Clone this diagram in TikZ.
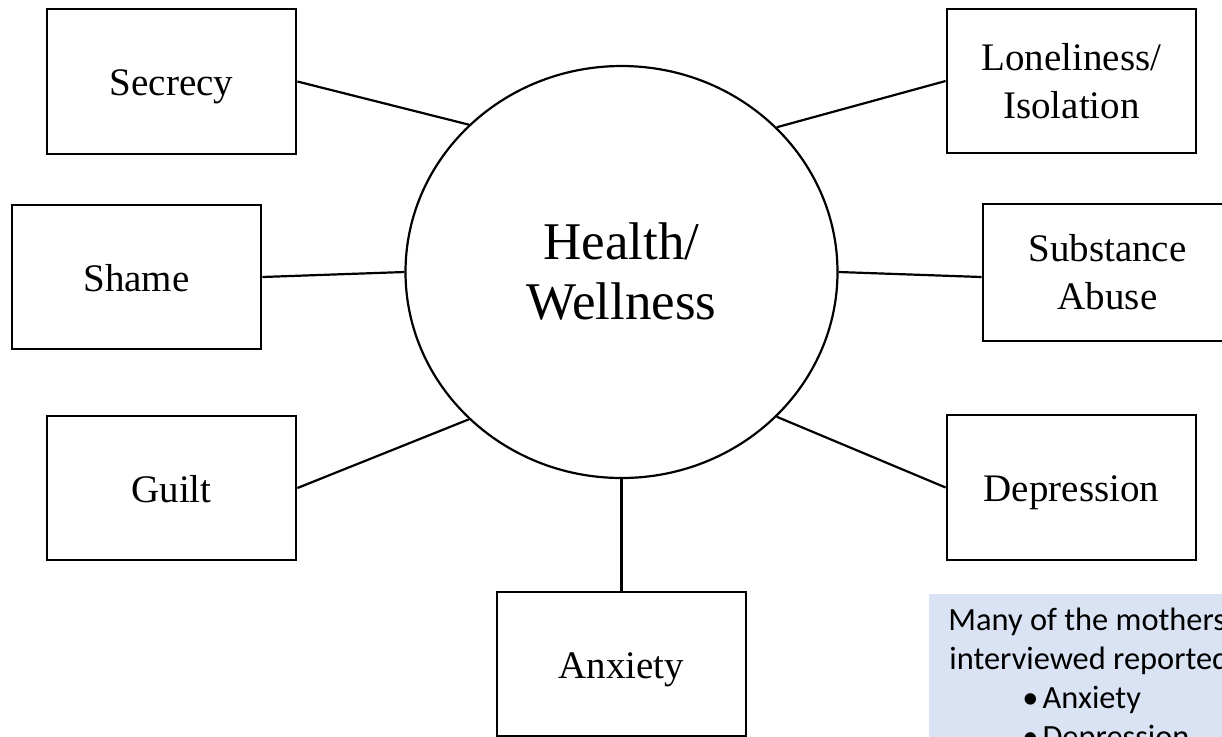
\documentclass[tikz,border=0pt]{standalone}
\usepackage{fontspec}
\setmainfont{Liberation Serif}
\newfontfamily\calloutfont{Carlito}
\usetikzlibrary{shapes.geometric}
\definecolor{calloutblue}{RGB}{218,227,243}
\tikzset{
  topic/.style={draw=black, line width=1.4pt, rectangle, fill=white, inner sep=0pt,
    minimum width=124.5pt, minimum height=72pt, align=center,
    font=\fontsize{19.5}{24}\selectfont},
  oneline/.style={text height=14pt, text depth=0pt},
  hub/.style={draw=black, line width=1.1pt, ellipse, inner sep=0pt,
    minimum width=216pt, minimum height=206pt, align=center,
    font=\fontsize{26.5}{30}\selectfont},
  link/.style={draw=black, line width=1.1pt},
  callline/.style={anchor=base west, inner sep=0pt, font=\calloutfont\fontsize{16.2}{19.5}\selectfont}
}
\begin{document}
\begin{tikzpicture}[x=0.5pt,y=-0.5pt]
\useasboundingbox (0,0) rectangle (1222,736);
\clip (0,0) rectangle (1222,736);
\fill[white] (0,0) rectangle (1222,736);

\node[hub] (hw) at (621.5,272) {Health/\\Wellness};

\node[topic, oneline, minimum height=72.5pt] (sec) at (171.5,81.5) {Secrecy};
\node[topic] (lon) at (1071.5,81) {Loneliness/\\Isolation};
\node[topic, oneline] (sh) at (136.5,277) {Shame};
\node[topic, minimum height=68.5pt] (sub) at (1107.5,272.5) {Substance\\Abuse};
\node[topic, oneline] (gu) at (171.5,488) {Guilt};
\node[topic, oneline, minimum height=72.5pt] (dep) at (1071.5,487.5) {Depression};
\node[topic, oneline] (anx) at (621.5,664) {Anxiety};

\draw[link] (sec.east) -- (hw.136);
\draw[link] (lon.west) -- (hw.43.5);
\draw[link] (sh.east) -- (hw.180);
\draw[link] (hw.0) -- (sub.west |- sh.east);
\draw[link] (gu.east) -- (hw.224);
\draw[link] (dep.west) -- (hw.-43);
\draw[link] (hw.270) -- (anx.north);

\node[fill=calloutblue, anchor=north west, inner sep=0pt, minimum width=200pt, minimum height=100pt] (callout) at (929,594) {};
\node[callline] (c1) at (948,630) {Many of the mothers};
\node[callline] (c2) at (949,669) {interviewed reported};
\node[callline] (c3) at (1022,708) {•\hspace{2pt}Anxiety};
\node[callline] (c4) at (1022,747) {•\hspace{2pt}Depression};
\end{tikzpicture}
\end{document}
